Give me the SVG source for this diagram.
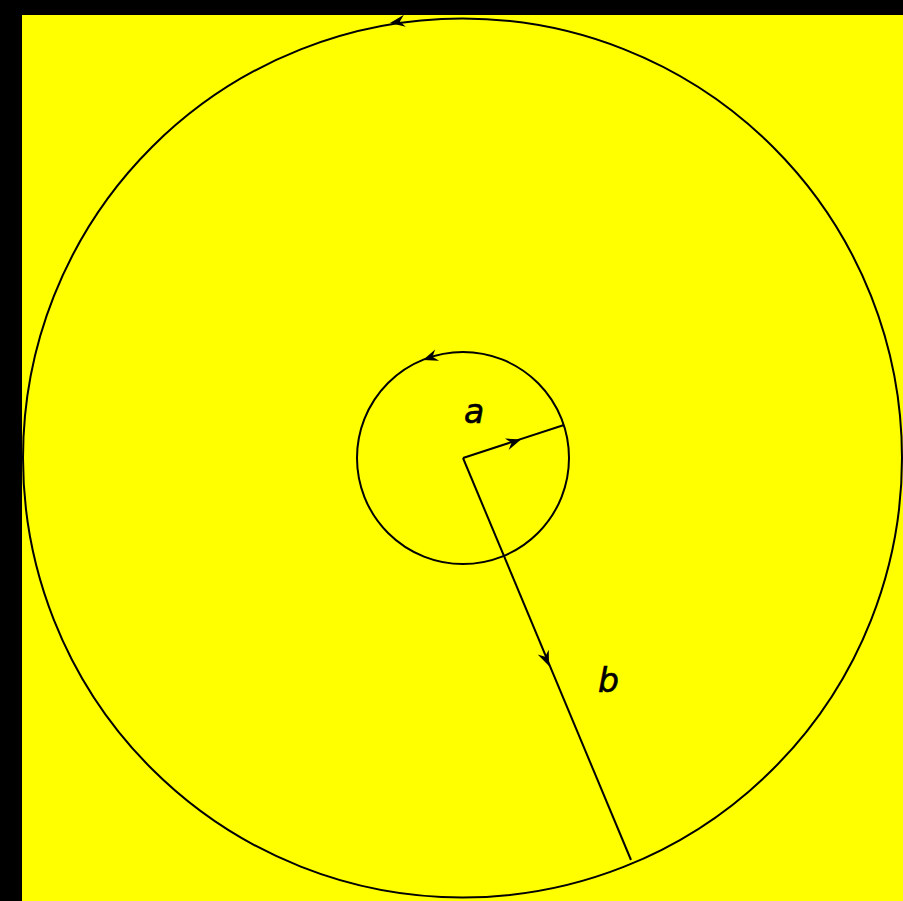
<svg xmlns="http://www.w3.org/2000/svg" width="903" height="901" viewBox="0 0 903 901">
<style>
.ln{fill:none;stroke:#000;stroke-width:2}
.ah{fill:#000}
.lbl{font-family:"DejaVu Sans",sans-serif;font-style:italic;font-size:33px;fill:#000;stroke:#000;stroke-width:0.6}
</style>
<defs>
<path id="head" d="M0,0 L-15,-6 L-10,0 L-15,6 Z"/>
</defs>
<rect x="0" y="0" width="903" height="901" fill="#000"/>
<rect x="22" y="15" width="881" height="886" fill="#ffff00"/>
<g id="outer">
<circle class="ln" cx="462.5" cy="458" r="439.5"/>
<use href="#head" class="ah" transform="translate(390,23) rotate(171.4)"/>
</g>
<g id="inner">
<circle class="ln" cx="463" cy="458" r="106"/>
<use href="#head" class="ah" transform="translate(423,360) rotate(160.7)"/>
</g>
<g id="connectors">
<g id="radius-a">
<line class="ln" x1="463" y1="458" x2="564" y2="425"/>
<use href="#head" class="ah" transform="translate(521,439.5) rotate(-18.3)"/>
</g>
<g id="radius-b">
<line class="ln" x1="463" y1="458" x2="631" y2="860"/>
<use href="#head" class="ah" transform="translate(549,666) rotate(67.3)"/>
</g>
</g>
<g id="label-a"><text class="lbl" x="464" y="423">a</text></g>
<g id="label-b"><text class="lbl" x="598" y="692">b</text></g>
</svg>
